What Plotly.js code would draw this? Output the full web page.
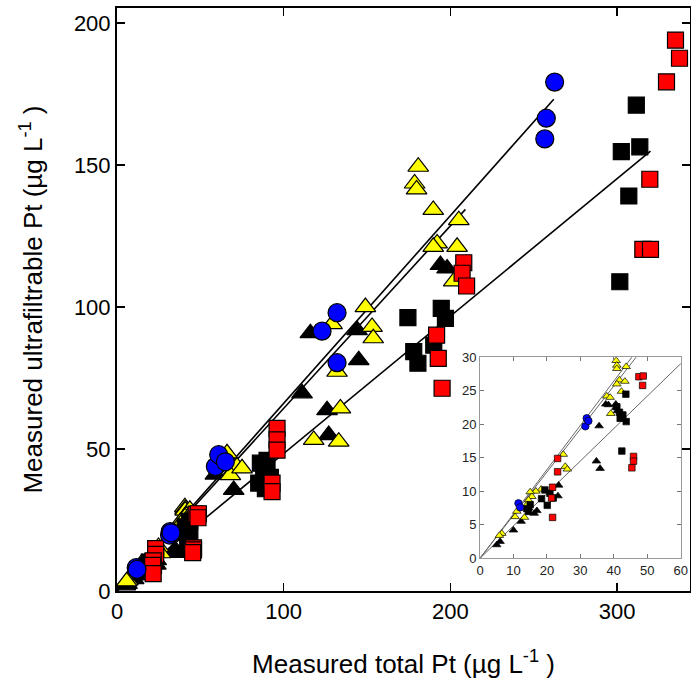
<!DOCTYPE html>
<html>
<head>
<meta charset="utf-8">
<script src="https://cdn.plot.ly/plotly-3.0.1.min.js"></script>
<style>html,body{margin:0;padding:0;background:#fff;}#chart{width:691px;height:689px;}</style>
</head>
<body>
<div id="chart"></div>
<script>
// ---- data (µg/L) ----
const blueX = [11.5, 12.0, 31.5, 31.9, 32.4, 59.0, 61.0, 65.0, 123, 132, 132, 256.6, 257.5, 262.5];
const blueY = [8.2, 7.6, 19.7, 20.9, 20.5, 43.8, 48.0, 45.5, 91.5, 98.0, 80.4, 159.2, 166.5, 179.2];

const yellowX = [40.7, 40.9, 40.9, 43.7, 41.7, 40.9, 43.3, 42.3, 37.9, 38.9, 39.1, 24.9, 25.5, 26.1, 18.3, 16.7, 15.0, 15.5, 14.5, 14.0, 13.3, 10.5, 11.0, 6.5, 5.8,
                 66, 72, 68, 75, 118, 133, 134, 132, 129, 149, 153, 153.7, 180.7, 178.5, 179.7, 189.7, 205, 192, 189.7, 204, 202];
const yellowY = [29.5, 28.8, 28.3, 28.6, 26.6, 26.0, 26.4, 24.9, 24.2, 24.0, 21.6, 15.5, 13.7, 13.3, 10.3, 10.0, 9.9, 9.2, 8.7, 8.0, 6.1, 6.2, 7.0, 3.7, 3.4,
                 48.5, 43.8, 40.8, 43.2, 53.2, 52.6, 64.3, 77.2, 94, 100, 93, 89, 149.4, 143.5, 141.4, 134.2, 130.6, 122.4, 121.2, 121.2, 109];

const blackTriX = [37.6, 38.4, 40.6, 40.6, 41.1, 35.6, 34.8, 35.9, 23.5, 23.3, 17.0, 16.2, 12.3, 10.0, 6.0, 5.0, 14.5,
                   59, 70, 111, 126, 127, 116, 144, 145, 194, 198];
const blackTriY = [23.0, 22.9, 23.0, 22.5, 22.0, 19.75, 14.5, 13.4, 10.9, 9.3, 7.1, 6.7, 5.5, 4.2, 2.5, 2.0, 7.5,
                   41, 35.6, 69.6, 63.7, 54.9, 90.8, 91.9, 81.3, 114.8, 113.6];

const blackSqX = [43.6, 40.9, 41.7, 42.7, 41.9, 43.7, 42.4, 19.4, 20.9, 18.4, 20.1, 14.5, 14.0, 15.0, 21.9,
                  86, 90, 88, 85, 89, 92, 174.5, 194.5, 197, 178, 180.5, 190, 301.6, 302.5, 307, 311.5, 313.6];
const blackSqY = [24.5, 22.6, 21.8, 21.4, 20.9, 20.4, 16.0, 10.2, 9.7, 8.9, 7.9, 7.0, 7.4, 8.0, 9.0,
                  45, 46, 41, 38, 36, 40, 96.3, 99.5, 96, 84.3, 80.2, 86.6, 108.9, 154.7, 139.1, 171.1, 156.4];

const redX = [47.5, 48.8, 48.6, 45.9, 45.9, 45.4, 23.2, 23.2, 21.7, 21.4, 21.7,
              93, 93, 96, 96, 96, 191.7, 192.7, 195, 208, 207, 209.7, 315.4, 320, 319.6, 329.6, 335, 337.4];
const redY = [27.1, 27.2, 25.8, 15.2, 14.5, 13.5, 14.9, 12.9, 10.6, 9.0, 6.1,
              38, 35, 57.3, 53.2, 49.6, 90.1, 81.9, 71.4, 115.6, 111.9, 107.4, 120.3, 120.3, 145, 179.3, 194, 187.6];

// fitted lines (endpoints)
const fitBlueX = [0, 262];   const fitBlueY = [0, 173.2];
const fitYellowX = [0, 209]; const fitYellowY = [0, 134.4];
const fitSqX = [0, 320];     const fitSqY = [0, 154.9];

const xTicks = [0, 100, 200, 300];
const yTicks = [0, 50, 100, 150, 200];
const insetXTicks = [0, 10, 20, 30, 40, 50, 60];
const insetYTicks = [0, 5, 10, 15, 20, 25, 30];

// ---- traces ----
const series = [
  {x: blackTriX, y: blackTriY, sym: 'triangle-up', color: '#000000', big: 18, small: 7.5},
  {x: yellowX, y: yellowY, sym: 'triangle-up', color: '#ffff00', big: 18, small: 7.5},
  {x: blackSqX, y: blackSqY, sym: 'square', color: '#000000', big: 16, small: 6.5},
  {x: redX, y: redY, sym: 'square', color: '#ff0000', big: 16, small: 6.5},
  {x: blueX, y: blueY, sym: 'circle', color: '#0000ff', big: 18, small: 7.5}
];
const fits = [[fitBlueX, fitBlueY], [fitYellowX, fitYellowY], [fitSqX, fitSqY]];

const traces = [];
fits.forEach(f => {
  traces.push({x: f[0], y: f[1], mode: 'lines', line: {color: '#000', width: 1.6}, xaxis: 'x', yaxis: 'y', hoverinfo: 'skip'});
});
series.forEach(s => {
  traces.push({x: s.x, y: s.y, mode: 'markers', xaxis: 'x', yaxis: 'y',
    marker: {symbol: s.sym, size: s.big, color: s.color, line: {color: '#000', width: 1.2}}});
});
fits.forEach(f => {
  traces.push({x: f[0], y: f[1], mode: 'lines', line: {color: '#666', width: 1}, xaxis: 'x2', yaxis: 'y2', hoverinfo: 'skip'});
});
series.forEach(s => {
  traces.push({x: s.x, y: s.y, mode: 'markers', xaxis: 'x2', yaxis: 'y2',
    marker: {symbol: s.sym, size: s.small, color: s.color, line: {color: '#000', width: 0.7}}});
});

const FONT = 'Liberation Sans, Arial, sans-serif';
const mainAxis = {
  showline: true, linecolor: '#000', linewidth: 2, mirror: 'ticks',
  ticks: 'inside', ticklen: 8, tickwidth: 1.5, tickcolor: '#000',
  showgrid: false, zeroline: false,
  tickfont: {family: FONT, size: 22, color: '#000'}
};
const insetAxis = {
  showline: true, linecolor: '#999', linewidth: 1, mirror: 'ticks',
  ticks: 'inside', ticklen: 4, tickwidth: 1, tickcolor: '#777',
  showgrid: false, zeroline: false,
  tickfont: {family: FONT, size: 13, color: '#222'}
};

const layout = {
  width: 691, height: 689,
  margin: {l: 117, r: 1, t: 8, b: 98},
  paper_bgcolor: '#fff', plot_bgcolor: '#fff',
  showlegend: false,
  font: {family: FONT, color: '#000'},
  xaxis: Object.assign({}, mainAxis, {
    range: [0, 343.7], tickmode: 'array', tickvals: xTicks, ticktext: xTicks.map(String),
    domain: [0, 1], anchor: 'y',
    title: {text: 'Measured total Pt (µg L<sup>-1</sup> )', font: {family: FONT, size: 26, color: '#000'}, standoff: 31}
  }),
  yaxis: Object.assign({}, mainAxis, {
    range: [0, 205.3], tickmode: 'array', tickvals: yTicks, ticktext: yTicks.map(String),
    domain: [0, 1], anchor: 'x',
    title: {text: 'Measured ultrafiltrable Pt (µg L<sup>-1</sup> )', font: {family: FONT, size: 26, color: '#000'}, standoff: 24}
  }),
  xaxis2: Object.assign({}, insetAxis, {
    range: [0, 60], tickmode: 'array', tickvals: insetXTicks, ticktext: insetXTicks.map(String),
    domain: [0.6335, 0.9838], anchor: 'y2'
  }),
  yaxis2: Object.assign({}, insetAxis, {
    range: [0, 30], tickmode: 'array', tickvals: insetYTicks, ticktext: insetYTicks.map(String),
    domain: [0.0561, 0.4009], anchor: 'x2'
  })
};

Plotly.newPlot('chart', traces, layout, {staticPlot: true, displayModeBar: false});
</script>
</body>
</html>
